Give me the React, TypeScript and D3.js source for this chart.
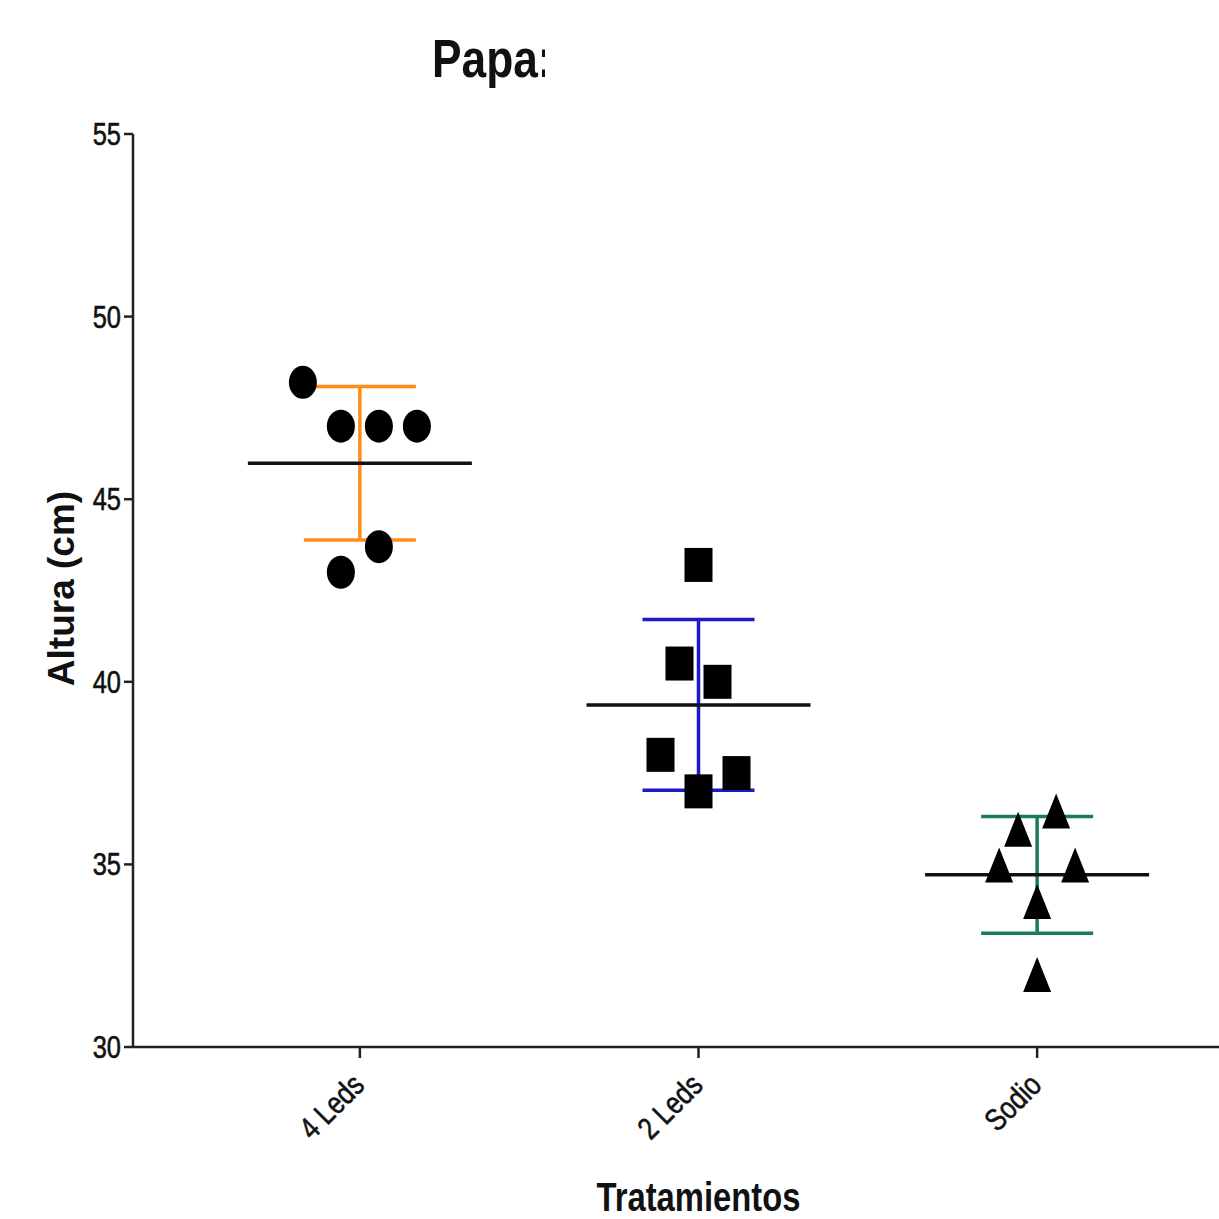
import React from "react";
import * as d3 from "d3";

const categories = ["4 Leds", "2 Leds", "Sodio"];
const leds4 = [48.2, 47.0, 47.0, 47.0, 43.7, 43.0];
const leds4Offsets = [-1.5, -0.5, 0.5, 1.5, 0.5, -0.5];
const leds2 = [43.2, 40.5, 40.0, 38.0, 37.5, 37.0];
const leds2Offsets = [0, -0.5, 0.5, -1, 1, 0];
const sodio = [36.45, 35.95, 34.97, 34.97, 33.97, 31.97];
const sodioOffsets = [0.5, -0.5, -1, 1, 0, 0];
const yTicks = [30, 35, 40, 45, 50, 55];
const seriesColors = ["#ff8c1a", "#1a1acc", "#1b7b5b"];

const W = 1219;
const H = 1219;
const SANS = "'Liberation Sans', Arial, sans-serif";
const NX = 0.82; // horizontal compression emulating a narrow face

export default function App() {
  const axisX = 133;
  const y = d3.scaleLinear().domain([30, 55]).range([1047, 134]);
  const x = d3.scalePoint<string>().domain(categories).range([133, 1264]).padding(0.67);
  const jitter = 38;

  const groups = [
    { name: categories[0], vals: leds4, offs: leds4Offsets, shape: "circle" },
    { name: categories[1], vals: leds2, offs: leds2Offsets, shape: "square" },
    { name: categories[2], vals: sodio, offs: sodioOffsets, shape: "triangle" },
  ];

  const marker = (shape: string, cx: number, cy: number, key: string) => {
    if (shape === "circle") return <ellipse key={key} cx={cx} cy={cy} rx={14} ry={16.5} fill="#000" />;
    if (shape === "square") return <rect key={key} x={cx - 14} y={cy - 17} width={28} height={34} fill="#000" />;
    const tri = d3.line()([[cx, cy - 18], [cx + 14, cy + 17], [cx - 14, cy + 17]]) + "Z";
    return <path key={key} d={tri} fill="#000" />;
  };

  return (
    <svg width={W} height={H} style={{ position: "absolute", left: 0, top: 0, background: "#fff" }}>
      <defs>
        <clipPath id="titleClip">
          <rect x={0} y={0} width={545} height={110} />
        </clipPath>
      </defs>
      <g clipPath="url(#titleClip)">
        <text transform={`translate(432,77) scale(${NX},1)`} fontFamily={SANS} fontWeight="bold" fontSize={54} fill="#111">Papa:</text>
      </g>

      {/* y axis */}
      <line x1={axisX} x2={axisX} y1={y(55)} y2={y(30)} stroke="#222" strokeWidth={2.5} />
      {yTicks.map((t) => (
        <g key={t}>
          <line x1={axisX - 9} x2={axisX} y1={y(t)} y2={y(t)} stroke="#222" strokeWidth={2.5} />
          <text transform={`translate(${axisX - 12},${y(t) + 11}) scale(${NX},1)`} textAnchor="end" fontFamily={SANS} fontSize={31} fill="#111" stroke="#111" strokeWidth={0.6}>{t}</text>
        </g>
      ))}
      <text transform={`translate(74,${(y(30) + y(55)) / 2 - 2}) rotate(-90)`} textAnchor="middle" fontFamily={SANS} fontWeight="bold" fontSize={37} fill="#111">Altura (cm)</text>

      {/* x axis */}
      <line x1={axisX} x2={W} y1={y(30)} y2={y(30)} stroke="#222" strokeWidth={2.5} />
      {categories.map((c) => (
        <g key={c}>
          <line x1={x(c)!} x2={x(c)!} y1={y(30)} y2={y(30) + 11} stroke="#222" strokeWidth={2.5} />
          <text transform={`translate(${x(c)! + 6},${y(30) + 40}) rotate(-45) scale(${NX},1)`} textAnchor="end" fontFamily={SANS} fontSize={31} fill="#111" stroke="#111" strokeWidth={0.6}>{c}</text>
        </g>
      ))}
      <text transform={`translate(${x(categories[1])!},1211) scale(${NX},1)`} textAnchor="middle" fontFamily={SANS} fontWeight="bold" fontSize={40} fill="#111">Tratamientos</text>

      {groups.map((g, gi) => {
        const cx = x(g.name)!;
        const mean = d3.mean(g.vals)!;
        const sd = d3.deviation(g.vals)!;
        const col = seriesColors[gi];
        return (
          <g key={g.name}>
            <line x1={cx} x2={cx} y1={y(mean + sd)} y2={y(mean - sd)} stroke={col} strokeWidth={3.5} />
            <line x1={cx - 56} x2={cx + 56} y1={y(mean + sd)} y2={y(mean + sd)} stroke={col} strokeWidth={3.5} />
            <line x1={cx - 56} x2={cx + 56} y1={y(mean - sd)} y2={y(mean - sd)} stroke={col} strokeWidth={3.5} />
            <line x1={cx - 112} x2={cx + 112} y1={y(mean)} y2={y(mean)} stroke="#111" strokeWidth={3.5} />
            {g.vals.map((v, i) => marker(g.shape, cx + g.offs[i] * jitter, y(v), `${g.name}-${i}`))}
          </g>
        );
      })}
    </svg>
  );
}
